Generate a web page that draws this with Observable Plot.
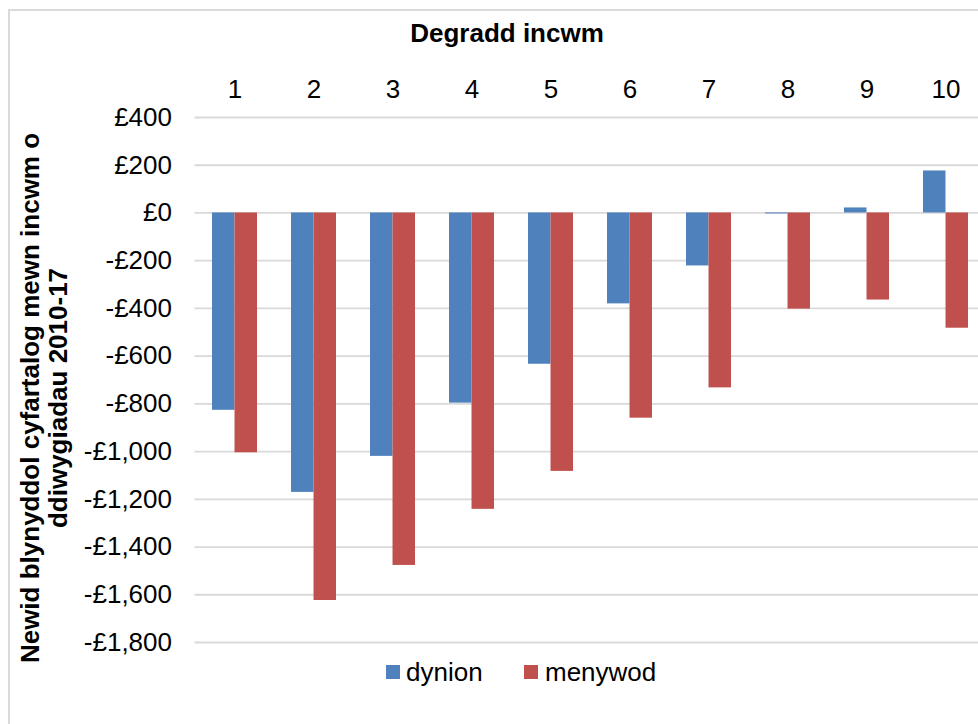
<!DOCTYPE html>
<html>
<head>
<meta charset="utf-8">
<script src="https://cdn.jsdelivr.net/npm/d3@7"></script>
<script src="https://cdn.jsdelivr.net/npm/@observablehq/plot@0.6"></script>
<style>
  html, body { margin: 0; padding: 0; background: #fff; }
  #wrap { position: relative; width: 978px; height: 724px; overflow: hidden; font-family: "Liberation Sans", Arial, sans-serif; color: #000; }
  #border { position: absolute; left: 8px; top: 9px; width: 1000px; height: 1000px; border-left: 2px solid #d9d9d9; border-top: 2px solid #d9d9d9; box-sizing: border-box; }
  #chart { position: absolute; left: 0; top: 0; }
  #title { position: absolute; left: 507px; top: 18px; transform: translateX(-50%); font-weight: bold; font-size: 26px; line-height: 30px; white-space: nowrap; }
  #ylabel { position: absolute; left: 44px; top: 398px; transform: translate(-50%, -50%) rotate(-90deg); font-weight: bold; font-size: 26px; line-height: 28px; white-space: nowrap; text-align: center; }
  .sw { position: absolute; width: 14px; height: 14px; top: 665px; }
  .lt { position: absolute; top: 659px; font-size: 26px; line-height: 26px; white-space: nowrap; }
</style>
</head>
<body>
<div id="wrap">
  <div id="border"></div>
  <div id="chart"></div>
  <div id="title"></div>
  <div id="ylabel"></div>
  <div id="legend"></div>
</div>
<script>
const deciles = ["1", "2", "3", "4", "5", "6", "7", "8", "9", "10"];
const dynion = [-827, -1171, -1020, -797, -634, -381, -222, -4, 21, 176];
const menywod = [-1005, -1624, -1477, -1242, -1083, -860, -733, -403, -365, -483];
const seriesNames = ["dynion", "menywod"];
const seriesColors = ["#4F81BD", "#C0504D"];
const yTicks = d3.range(-1800, 401, 200);
const titleText = "Degradd incwm";
const yLabelLines = ["Newid blynyddol cyfartalog mewn incwm o", "ddiwygiadau 2010-17"];

const table = deciles.map((d, i) => ({decile: d, dynion: dynion[i], menywod: menywod[i]}));

const W = 978, H = 724;
const mL = 195.5, mR = -7.5, mT = 117, mB = 82;
const pInner = 0.43;
const step = (W - mL - mR) / deciles.length;
const half = step * (1 - pInner) / 2;

const fmt = v => (v < 0 ? "-" : "") + "£" + d3.format(",")(Math.abs(v));

const chart = Plot.plot({
  width: W,
  height: H,
  marginLeft: mL,
  marginRight: mR,
  marginTop: mT,
  marginBottom: mB,
  style: {fontFamily: "Liberation Sans, Arial, sans-serif", fontSize: "26px", color: "#000", background: "transparent", overflow: "visible"},
  x: {type: "band", domain: deciles, paddingInner: pInner, paddingOuter: pInner / 2, axis: null},
  y: {domain: [-1800, 400], axis: null},
  marks: [
    Plot.ruleY(yTicks, {stroke: "#d9d9d9", strokeWidth: 1.8, insetLeft: -1}),
    Plot.barY(table, {x: "decile", y1: 0, y2: "dynion", fill: seriesColors[0], insetRight: half}),
    Plot.barY(table, {x: "decile", y1: 0, y2: "menywod", fill: seriesColors[1], insetLeft: half}),
    Plot.axisX({anchor: "top", tickSize: 0, tickPadding: 20, label: null, fontSize: 26}),
    Plot.axisY({ticks: yTicks, anchor: "left", tickSize: 0, tickPadding: 24, tickFormat: fmt, label: null, fontSize: 26})
  ]
});
document.getElementById("chart").appendChild(chart);

document.getElementById("title").textContent = titleText;
document.getElementById("ylabel").innerHTML = yLabelLines.join("<br>");

const legend = document.getElementById("legend");
const lx = [[386, 406], [524, 545]];
seriesNames.forEach((n, i) => {
  const s = document.createElement("div");
  s.className = "sw";
  s.style.left = lx[i][0] + "px";
  s.style.background = seriesColors[i];
  legend.appendChild(s);
  const t = document.createElement("div");
  t.className = "lt";
  t.style.left = lx[i][1] + "px";
  t.textContent = n;
  legend.appendChild(t);
});
</script>
</body>
</html>
